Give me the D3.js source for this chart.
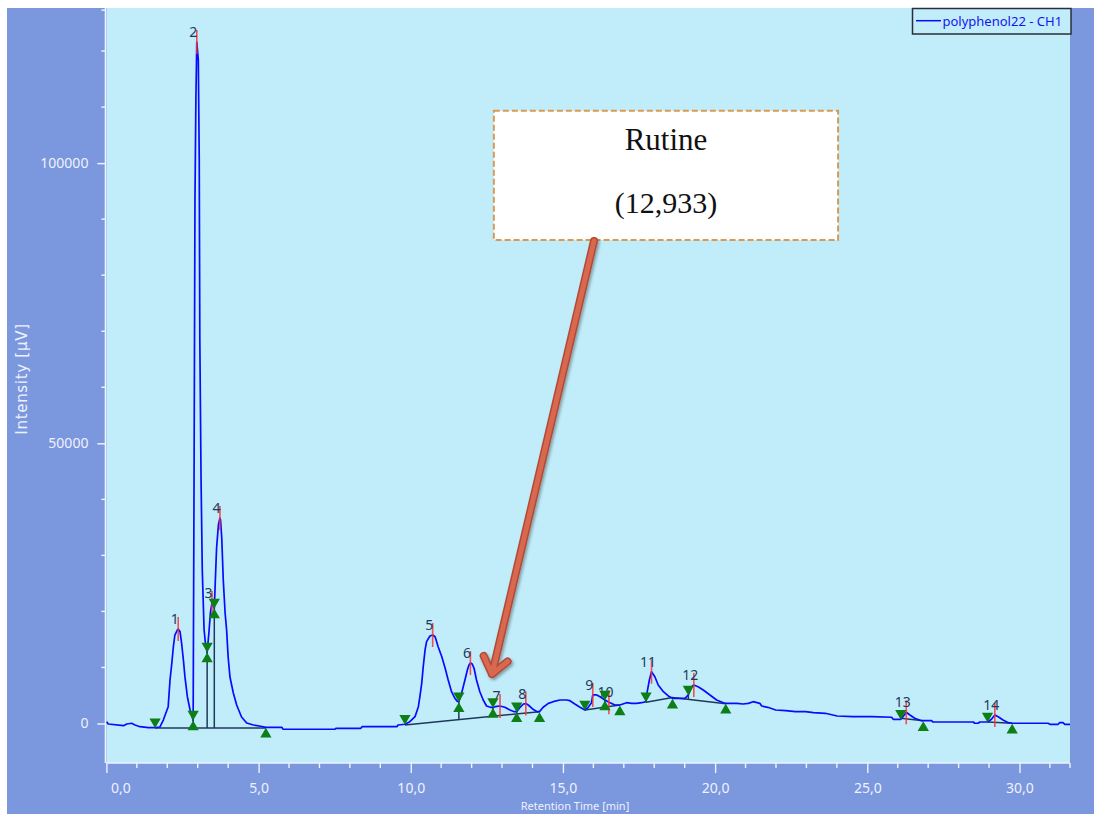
<!DOCTYPE html>
<html>
<head>
<meta charset="utf-8">
<script src="https://cdn.jsdelivr.net/npm/d3@7"></script>
<style>
  html, body { margin: 0; padding: 0; background: #ffffff; }
  svg { display: block; }
</style>
</head>
<body>
<svg id="chart" width="1094" height="814"></svg>
<script>
// ---- Chromatogram signal: [retention time (min), intensity (µV)] ----
const chromatogram = [
  [0.01,320],[0.06,-90],[0.56,-390],[0.67,-90],[0.83,40],[0.94,-270],[1.10,-570],[1.38,-750],[1.60,-750],[1.76,-620],
  [1.87,620],[2.03,3000],[2.09,7760],[2.15,10800],[2.20,13700],[2.25,15790],[2.33,16680],[2.36,16860],[2.42,16380],
  [2.47,14360],[2.53,11330],[2.58,8350],[2.66,4780],[2.75,2410],[2.85,620],
  [2.88,43450],[2.91,93410],[2.94,111260],[2.97,121610],[3.02,118390],[3.05,100910],[3.07,68250],[3.11,43630],
  [3.15,27390],[3.21,16680],[3.26,14010],[3.31,12760],
  [3.37,16330],[3.42,19900],[3.47,21500],[3.50,21150],[3.545,20610],
  [3.59,27030],[3.62,31320],[3.68,35420],[3.73,36670],[3.75,36310],[3.79,33100],[3.84,25610],[3.90,19720],
  [3.95,16680],[4.00,11870],[4.06,8300],[4.17,5440],[4.28,3300],[4.44,1160],[4.61,90],[4.83,-270],[5.11,-540],
  [5.24,-680],[5.77,-680],[5.80,-1030],[7.51,-1030],[7.54,-860],[8.36,-860],[8.40,-570],[9.55,-570],[9.58,-270],
  [9.81,-140],[9.97,320],[10.14,1210],[10.25,3000],[10.30,4780],[10.36,7170],[10.41,10140],[10.47,13120],
  [10.52,14600],[10.63,15610],[10.72,15790],[10.80,15490],[10.90,13700],[11.02,11920],[11.13,9850],[11.23,7760],
  [11.34,5670],[11.45,4500],[11.53,3950],[11.58,3890],[11.67,5390],[11.78,7760],[11.86,9550],[11.91,10400],
  [11.96,10800],[12.02,10620],[12.08,9850],[12.16,7760],[12.27,5670],[12.38,4190],[12.49,3120],[12.62,2890],
  [12.70,2860],[12.77,3000],[12.93,3120],[13.09,2890],[13.26,2410],[13.40,2110],[13.48,2110],[13.59,2890],
  [13.70,3480],[13.78,3560],[13.86,3300],[14.02,2530],[14.15,2110],[14.23,2110],[14.35,2890],[14.52,3600],
  [14.68,3890],[14.90,4190],[15.12,4190],[15.23,4070],[15.39,3480],[15.56,2890],[15.72,2410],[15.83,2890],
  [15.94,3710],[15.98,5090],[16.11,5090],[16.22,4780],[16.38,4190],[16.51,3800],[16.71,3300],[16.87,3300],
  [17.09,3710],[17.26,3600],[17.42,3600],[17.59,3710],[17.73,3890],[17.77,5670],[17.84,7760],[17.91,9240],
  [18.02,8350],[18.13,6870],[18.30,5670],[18.46,4910],[18.60,4500],[18.84,4500],[19.01,4500],[19.12,5090],
  [19.23,6570],[19.30,6870],[19.44,6570],[19.61,5980],[19.83,5090],[20.05,4190],[20.27,3710],[20.35,3600],
  [20.49,3600],[20.71,3600],[20.92,3480],[21.09,3600],[21.25,3890],[21.47,3600],[21.53,3120],[21.73,2890],
  [21.99,2410],[22.32,2280],[22.64,2110],[22.97,2110],[23.23,1930],[23.62,1820],[24.01,1340],[24.53,1210],
  [25.15,1210],[25.80,1110],[25.85,750],[26.10,750],[26.19,1340],[26.28,2000],[26.40,1520],[26.56,930],
  [26.78,500],[26.84,500],[27.11,500],[27.16,270],[28.48,270],[28.53,40],[28.64,40],[28.70,270],[28.95,270],
  [29.08,750],[29.19,1520],[29.30,1210],[29.46,620],[29.63,140],[29.76,40],[30.94,40],[31.00,-140],[31.27,-140],
  [31.32,140],[31.43,140],[31.49,-140],[31.66,-140]
];

// ---- Integrated peaks ----
const peakNumbers = [1, 2, 3, 4, 5, 6, 7, 8, 9, 10, 11, 12, 13, 14];
const peakRT      = [2.36, 2.97, 3.47, 3.73, 10.72, 11.96, 12.933, 13.78, 15.98, 16.51, 17.91, 19.30, 26.28, 29.19];
const peakHeight  = [16860, 121610, 21500, 36670, 15790, 10800, 3120, 3560, 5090, 3800, 9240, 6870, 2000, 1520];
const peakStart   = [1.60, 2.85, 3.31, 3.545, 9.81, 11.58, 12.70, 13.48, 15.72, 16.38, 17.73, 19.12, 26.10, 28.95];
const peakEnd     = [2.85, 3.31, 3.545, 5.24, 11.58, 12.70, 13.48, 14.23, 16.38, 16.87, 18.60, 20.35, 26.84, 29.76];

// Integration baselines, one polyline per group of peaks
const baselineGroups = [
  [[1.60, -800], [5.24, -800]],
  [[9.81, -270], [14.23, 2110]],
  [[15.72, 2410], [16.87, 3300]],
  [[17.73, 3800], [18.60, 4640], [20.35, 3530]],
  [[26.10, 930], [26.84, 500]],
  [[28.95, 270], [29.76, 40]]
];

// ---- Axis ticks ----
const xMajorTicks = [0, 5, 10, 15, 20, 25, 30];
const yMajorTicks = [0, 50000, 100000];

// Highlighted compound
const calloutName = "Rutine";
const calloutPeak = 7;

// ---------------------------------------------------------------------
const svg = d3.select("#chart");
const plotLeft = 106.4, plotRight = 1070, plotTop = 8, plotBottom = 763;

const x = d3.scaleLinear().domain([0, 31.66]).range([plotLeft, plotRight]);
const y = d3.scaleLinear().domain([-7050, 127680]).range([plotBottom, plotTop]);

const axisText = "#eef2ff";
const uiFont = "'Noto Sans', 'DejaVu Sans', sans-serif";

// frame and plotting area
svg.append("rect").attr("x", 7).attr("y", 8).attr("width", 1087).attr("height", 806).attr("fill", "#7b97dd");
svg.append("rect").attr("x", plotLeft).attr("y", plotTop)
  .attr("width", plotRight - plotLeft).attr("height", plotBottom - plotTop).attr("fill", "#c1edfb");

// ---- Y axis ----
const yAxisG = svg.append("g").attr("transform", `translate(${plotLeft - 1},0)`);
yAxisG.call(d3.axisLeft(y).tickValues(yMajorTicks).tickSize(8).tickPadding(9).tickFormat(d3.format("d")));
const yMinor = d3.range(10000, 127680, 10000).filter(v => !yMajorTicks.includes(v)).concat([127300]);
yAxisG.selectAll(".minor").data(yMinor).join("line").attr("class", "minor")
  .attr("x1", -4).attr("x2", 0).attr("y1", d => y(d)).attr("y2", d => y(d));
yAxisG.select(".domain").remove();
yAxisG.append("line").attr("x1", 0).attr("x2", 0).attr("y1", plotTop).attr("y2", plotBottom);
yAxisG.selectAll("line").attr("stroke", "#f2f5ff").attr("stroke-width", 1.4);
yAxisG.selectAll("text").attr("fill", axisText).style("font-family", uiFont).style("font-size", "14px");

// ---- X axis ----
const xAxisG = svg.append("g").attr("transform", `translate(0,${plotBottom})`);
xAxisG.call(d3.axisBottom(x).tickValues(xMajorTicks).tickSize(10).tickPadding(10)
  .tickFormat(d => d3.format(".1f")(d).replace(".", ",")));
const xMinor = d3.range(1, 32, 1).filter(v => !xMajorTicks.includes(v)).concat([31.66]);
xAxisG.selectAll(".minor").data(xMinor).join("line").attr("class", "minor")
  .attr("x1", d => x(d)).attr("x2", d => x(d)).attr("y1", 0).attr("y2", 5);
xAxisG.select(".domain").remove();
xAxisG.append("line").attr("x1", plotLeft).attr("x2", plotRight).attr("y1", 0).attr("y2", 0);
xAxisG.selectAll("line").attr("stroke", "#eef2ff").attr("stroke-width", 1.4);
xAxisG.selectAll("text").attr("fill", axisText).style("font-family", uiFont).style("font-size", "14px");
xAxisG.selectAll(".tick").filter(d => d === 0).select("text").attr("text-anchor", "start").attr("dx", 4);

// axis titles
svg.append("text").attr("x", 575).attr("y", 810).attr("text-anchor", "middle")
  .attr("fill", axisText).style("font-family", uiFont).style("font-size", "11px").text("Retention Time [min]");
svg.append("text").attr("transform", "translate(27,379) rotate(-90)").attr("text-anchor", "middle")
  .attr("fill", axisText).style("font-family", "'DejaVu Sans', sans-serif").style("font-size", "15px")
  .style("letter-spacing", "0.7px").text("Intensity [µV]");

// ---- helpers ----
function interp(points, t) {
  for (let i = 1; i < points.length; i++) {
    if (t <= points[i][0]) {
      const [t0, v0] = points[i - 1], [t1, v1] = points[i];
      return v0 + (v1 - v0) * (t - t0) / (t1 - t0);
    }
  }
  return points[points.length - 1][1];
}

const plotG = svg.append("g");
const darkLine = "#1c3a58";

// ---- Integration baselines and drop lines ----
const line = d3.line().x(d => x(d[0])).y(d => y(d[1]));
plotG.selectAll(".baseline").data(baselineGroups).join("path").attr("class", "baseline")
  .attr("d", line).attr("fill", "none").attr("stroke", darkLine).attr("stroke-width", 1.5);

const dropTimes = peakStart.filter(t => peakEnd.includes(t)).concat(
  peakStart.filter(t => !peakEnd.includes(t) && baselineGroups.some(g => t > g[0][0] && t < g[g.length - 1][0])));
const groupFor = t => baselineGroups.find(g => t >= g[0][0] && t <= g[g.length - 1][0]);
plotG.selectAll(".drop").data(dropTimes).join("line").attr("class", "drop")
  .attr("x1", d => x(d)).attr("x2", d => x(d))
  .attr("y1", d => y(interp(groupFor(d), d))).attr("y2", d => y(interp(chromatogram, d)))
  .attr("stroke", darkLine).attr("stroke-width", 1.5);

// ---- Signal trace ----
plotG.append("path").datum(chromatogram).attr("d", line)
  .attr("fill", "none").attr("stroke", "#0a0aff").attr("stroke-width", 1.7).attr("stroke-linejoin", "round");

// ---- Peak apex markers and numbers ----
const peaks = peakNumbers.map((n, i) => ({ n, rt: peakRT[i], h: peakHeight[i] }));
plotG.selectAll(".apex").data(peaks).join("line").attr("class", "apex")
  .attr("x1", d => x(d.rt)).attr("x2", d => x(d.rt))
  .attr("y1", d => y(d.h) - 12).attr("y2", d => y(d.h) + 12)
  .attr("stroke", "#ff3030").attr("stroke-width", 1.6).attr("opacity", 0.85);
plotG.selectAll(".plabel").data(peaks).join("text").attr("class", "plabel")
  .attr("x", d => x(d.rt) - 3.5).attr("y", d => y(d.h) - 5).attr("text-anchor", "middle")
  .attr("fill", "#1f3b5b").style("font-family", uiFont).style("font-size", "14px").text(d => d.n);

// ---- Peak start / end markers ----
const tri = d3.symbol().type(d3.symbolTriangle).size(55);
const green = "#0d7f17";
plotG.selectAll(".pstart").data(peakStart).join("path").attr("class", "pstart")
  .attr("d", tri).attr("fill", green)
  .attr("transform", d => `translate(${x(d)},${y(interp(chromatogram, d)) - 6}) rotate(180)`);
plotG.selectAll(".pend").data(peakEnd).join("path").attr("class", "pend")
  .attr("d", tri).attr("fill", green)
  .attr("transform", d => `translate(${x(d)},${y(interp(chromatogram, d)) + 7})`);

// ---- Callout for the highlighted compound ----
const target = peaks.find(p => p.n === calloutPeak);
const boxX0 = x(12.73), boxX1 = x(24.04), boxY0 = y(109350), boxY1 = y(86280);
const defs = svg.append("defs");
const shadow = defs.append("filter").attr("id", "shade").attr("x", "-20%").attr("y", "-20%").attr("width", "140%").attr("height", "140%");
shadow.append("feDropShadow").attr("dx", 1.5).attr("dy", 2).attr("stdDeviation", 1.5)
  .attr("flood-color", "#000").attr("flood-opacity", 0.35);

const callG = svg.append("g");
callG.append("rect").attr("x", boxX0).attr("y", boxY0).attr("width", boxX1 - boxX0).attr("height", boxY1 - boxY0)
  .attr("fill", "#ffffff").attr("stroke", "#dc9a4e").attr("stroke-width", 2).attr("stroke-dasharray", "6,3");
const cx = (boxX0 + boxX1) / 2;
callG.append("text").attr("x", cx).attr("y", boxY0 + 39).attr("text-anchor", "middle")
  .style("font-family", "'Liberation Serif', 'DejaVu Serif', serif").style("font-size", "31px").attr("fill", "#111")
  .text(calloutName);
callG.append("text").attr("x", cx).attr("y", boxY0 + 102).attr("text-anchor", "middle")
  .style("font-family", "'Liberation Serif', 'DejaVu Serif', serif").style("font-size", "30px").attr("fill", "#111")
  .text("(" + d3.format(".3f")(target.rt).replace(".", ",") + ")");

// arrow from the box to the peak
const start = [x(16.02), boxY1 + 1];
const tip = [x(target.rt) - 8, y(target.h) - 32];
const dx = start[0] - tip[0], dy = start[1] - tip[1], len = Math.hypot(dx, dy);
const ux = dx / len, uy = dy / len;
const armLen = 20, ang = 38 * Math.PI / 180;
const rot = (a) => [tip[0] + armLen * (ux * Math.cos(a) - uy * Math.sin(a)), tip[1] + armLen * (ux * Math.sin(a) + uy * Math.cos(a))];
const armA = rot(ang), armB = rot(-ang);
const arrowPath = `M${start[0]},${start[1]}L${tip[0]},${tip[1]}M${armA[0]},${armA[1]}L${tip[0]},${tip[1]}L${armB[0]},${armB[1]}`;
const arrowG = callG.append("g").attr("filter", "url(#shade)");
arrowG.append("path").attr("d", arrowPath)
  .attr("fill", "none").attr("stroke", "#b24a34").attr("stroke-width", 8)
  .attr("stroke-linecap", "round").attr("stroke-linejoin", "round");
arrowG.append("path").attr("d", arrowPath)
  .attr("fill", "none").attr("stroke", "#d8684f").attr("stroke-width", 5)
  .attr("stroke-linecap", "round").attr("stroke-linejoin", "round");

// ---- Legend ----
const legG = svg.append("g");
legG.append("rect").attr("x", 912.5).attr("y", 8.5).attr("width", 158.5).attr("height", 25.5)
  .attr("fill", "#c1edfb").attr("stroke", "#2a2d3a").attr("stroke-width", 1.5);
legG.append("line").attr("x1", 916).attr("x2", 941).attr("y1", 20.7).attr("y2", 20.7)
  .attr("stroke", "#0a0aff").attr("stroke-width", 1.5);
legG.append("text").attr("x", 942.5).attr("y", 25.5).attr("fill", "#1414ee")
  .style("font-family", uiFont).style("font-size", "13px").text("polyphenol22 - CH1");
</script>
</body>
</html>
